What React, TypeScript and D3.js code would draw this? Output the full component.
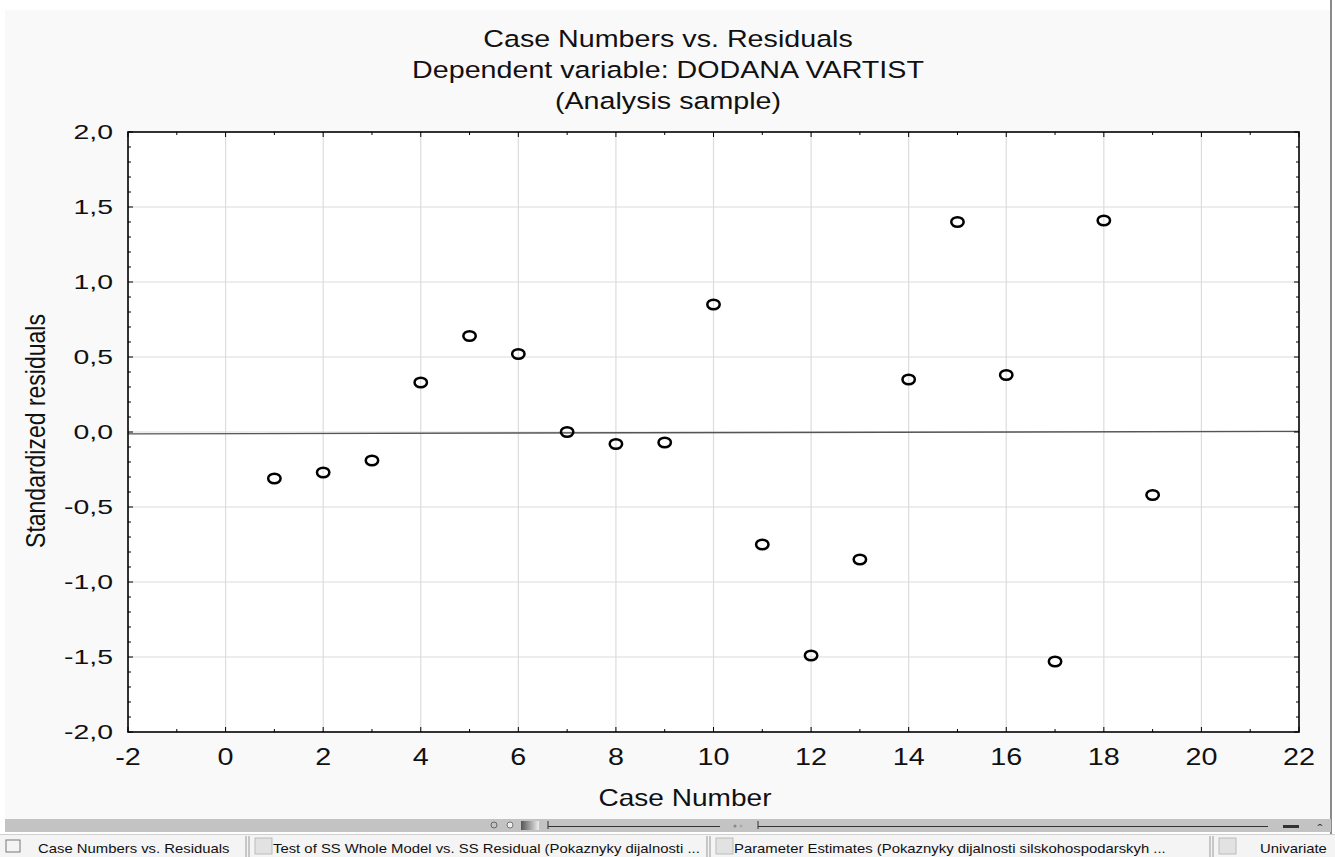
import React from 'react'
import * as d3 from 'd3'

// values
const caseNumbers = [1, 2, 3, 4, 5, 6, 7, 8, 9, 10, 11, 12, 13, 14, 15, 16, 17, 18, 19]
const residuals = [-0.31, -0.27, -0.19, 0.33, 0.64, 0.52, 0.0, -0.08, -0.07, 0.85, -0.75, -1.49, -0.85, 0.35, 1.4, 0.38, -1.53, 1.41, -0.42]
const fitX = [-2, 22]
const fitY = [-0.012, 0.004]
const xTicks = [-2, 0, 2, 4, 6, 8, 10, 12, 14, 16, 18, 20, 22]
const yTicks = [-2, -1.5, -1, -0.5, 0, 0.5, 1, 1.5, 2]
const titleLines = ['Case Numbers vs. Residuals', 'Dependent variable: DODANA VARTIST', '(Analysis sample)']
const tabs = [
  'Test of SS Whole Model vs. SS Residual (Pokaznyky dijalnosti ...',
  'Parameter Estimates (Pokaznyky dijalnosti silskohospodarskyh ...',
  'Univariate',
]

const W = 1335
const H = 857
const plot = { left: 128, right: 1299, top: 132, bottom: 732 }
const font = 'Arial, "Liberation Sans", sans-serif'
const SX = 1.22 // the picture is a bit wider than tall

const T = ({ x, y, size, anchor = 'middle', sx = SX, rotate = 0, fill = '#111', children }: any) => (
  <text
    transform={`translate(${x},${y}) rotate(${rotate}) scale(${rotate ? 1 : sx},${rotate ? sx : 1})`}
    fontSize={size}
    fontFamily={font}
    textAnchor={anchor}
    fill={fill}
  >
    {children}
  </text>
)

export default function App() {
  const x = d3.scaleLinear().domain([-2, 22]).range([plot.left, plot.right])
  const y = d3.scaleLinear().domain([-2, 2]).range([plot.bottom, plot.top])
  const fmt = (v: number) => d3.format('.1f')(v).replace('.', ',').replace('−', '-')

  const xMinor = d3.range(-1, 22, 2)
  const yMinor = d3.range(-20, 21).map(v => v / 10).filter(v => Math.abs(v * 2 - Math.round(v * 2)) > 1e-6)

  const line = d3.line<number>().x(d => x(fitX[d])).y(d => y(fitY[d]))

  return (
    <svg width={W} height={H} style={{ position: 'absolute', left: 0, top: 0, background: '#fff' }}>
      <rect x={5} y={10} width={1326} height={809} fill="#f9f9f9" />
      <line x1={1331} x2={1331} y1={0} y2={835} stroke="#8a8a8a" strokeWidth={2} />

      {titleLines.map((t, i) => (
        <T key={t} x={668} y={47 + i * 31} size={23.5}>{t}</T>
      ))}

      <rect x={plot.left} y={plot.top} width={plot.right - plot.left} height={plot.bottom - plot.top} fill="#fff" />
      {xTicks.slice(1, -1).map(v => (
        <line key={'gx' + v} x1={x(v)} x2={x(v)} y1={plot.top} y2={plot.bottom} stroke="#dcdcdc" strokeWidth={1.2} />
      ))}
      {yTicks.slice(1, -1).map(v => (
        <line key={'gy' + v} x1={plot.left} x2={plot.right} y1={y(v)} y2={y(v)} stroke="#dcdcdc" strokeWidth={1.2} />
      ))}

      <path d={line([0, 1]) || ''} stroke="#555" strokeWidth={1.3} fill="none" />

      {caseNumbers.map((c, i) => (
        <ellipse key={c} cx={x(c)} cy={y(residuals[i])} rx={6.2} ry={4.8} fill="none" stroke="#000" strokeWidth={2.5} />
      ))}

      {/* ticks, inside on all four sides */}
      {xTicks.map(v => (
        <g key={'tx' + v}>
          <line x1={x(v)} x2={x(v)} y1={plot.bottom} y2={plot.bottom - 5} stroke="#000" />
          <line x1={x(v)} x2={x(v)} y1={plot.top} y2={plot.top + 5} stroke="#000" />
        </g>
      ))}
      {xMinor.map(v => (
        <g key={'mx' + v}>
          <line x1={x(v)} x2={x(v)} y1={plot.bottom} y2={plot.bottom - 3} stroke="#000" />
          <line x1={x(v)} x2={x(v)} y1={plot.top} y2={plot.top + 3} stroke="#000" />
        </g>
      ))}
      {yTicks.map(v => (
        <g key={'ty' + v}>
          <line x1={plot.left} x2={plot.left + 5} y1={y(v)} y2={y(v)} stroke="#000" />
          <line x1={plot.right} x2={plot.right - 5} y1={y(v)} y2={y(v)} stroke="#000" />
        </g>
      ))}
      {yMinor.map(v => (
        <g key={'my' + v}>
          <line x1={plot.left} x2={plot.left + 3} y1={y(v)} y2={y(v)} stroke="#000" />
          <line x1={plot.right} x2={plot.right - 3} y1={y(v)} y2={y(v)} stroke="#000" />
        </g>
      ))}
      <rect x={plot.left} y={plot.top} width={plot.right - plot.left} height={plot.bottom - plot.top} fill="none" stroke="#000" strokeWidth={1.6} />

      {xTicks.map(v => (
        <T key={'lx' + v} x={x(v)} y={765} size={23} sx={1.25}>{String(v)}</T>
      ))}
      {yTicks.map(v => (
        <T key={'ly' + v} x={113} y={y(v) + 7} size={20} anchor="end" sx={1.42}>{fmt(v)}</T>
      ))}

      <T x={685} y={806} size={23}>Case Number</T>
      <T x={45} y={431} size={23} rotate={-90}>Standardized residuals</T>

      {/* bottom scroll bar */}
      <defs>
        <linearGradient id="grad">
          <stop offset="0" stopColor="#555" />
          <stop offset="1" stopColor="#eee" />
        </linearGradient>
      </defs>
      <rect x={5} y={819} width={1326} height={13} fill="#c3c3c3" />
      <g stroke="#333" strokeWidth={1}>
        <line x1={548} x2={720} y1={826.5} y2={826.5} />
        <line x1={548} x2={548} y1={821} y2={829} />
        <line x1={758} x2={1268} y1={826.5} y2={826.5} />
        <line x1={758} x2={758} y1={821} y2={829} />
      </g>
      <rect x={521} y={821} width={18} height={9} fill="url(#grad)" />
      <circle cx={494} cy={825} r={3} fill="none" stroke="#666" />
      <circle cx={510} cy={825} r={3} fill="#eee" stroke="#777" />
      <circle cx={735} cy={826} r={1.5} fill="#888" />
      <circle cx={741} cy={826} r={1.5} fill="#aaa" />
      <rect x={1283} y={825} width={16} height={3} fill="#333" />
      <T x={1320} y={834} size={12} fill="#333">ˆ</T>

      {/* tab strip */}
      <rect x={0} y={834} width={W} height={23} fill="#f4f4f4" />
      <line x1={0} x2={W} y1={834.5} y2={834.5} stroke="#d0d0d0" />
      <rect x={6} y={840} width={14} height={12} fill="none" stroke="#777" />
      <T x={38} y={853} size={12.5} anchor="start" sx={1.19}>Case Numbers vs. Residuals</T>
      {[246, 707, 1210].map((sx0, i) => (
        <g key={sx0}>
          <line x1={sx0} x2={sx0} y1={836} y2={857} stroke="#999" />
          <line x1={sx0 + 3} x2={sx0 + 3} y1={836} y2={857} stroke="#999" />
          <rect x={sx0 + 9} y={838} width={17} height={16} fill="#e2e2e2" stroke="#bbb" />
          <T x={i === 2 ? 1260 : sx0 + 27} y={853} size={12.5} anchor="start" sx={1.19}>{tabs[i]}</T>
        </g>
      ))}
    </svg>
  )
}
